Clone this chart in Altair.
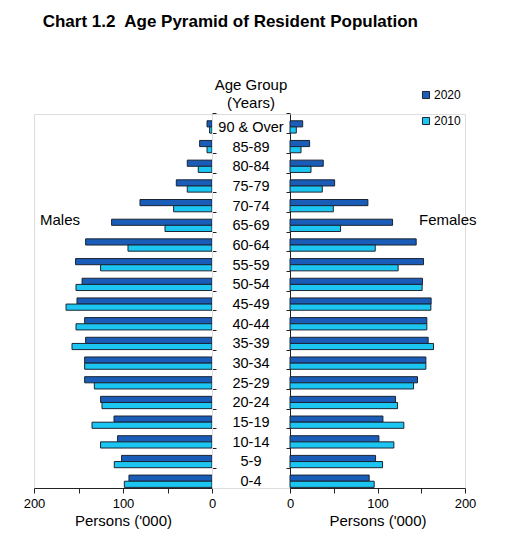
import altair as alt
import pandas as pd

FONT = "Liberation Sans"

# ---- data (thousands of persons) ----
ages = ["0-4", "5-9", "10-14", "15-19", "20-24", "25-29", "30-34", "35-39",
        "40-44", "45-49", "50-54", "55-59", "60-64", "65-69", "70-74",
        "75-79", "80-84", "85-89", "90 & Over"]
years = ["2020", "2010"]
males_2020 = [93.3, 101.6, 106.1, 110.1, 125.2, 143.1, 143.1, 142.0, 143.1, 151.7,
              146.0, 153.3, 142.0, 112.8, 80.9, 40.1, 27.8, 13.9, 5.6]
males_2010 = [98.5, 109.8, 125.2, 134.8, 123.6, 132.2, 143.1, 157.3, 152.8, 164.0,
              152.8, 125.2, 94.4, 52.8, 43.1, 27.8, 15.4, 5.6, 2.7]
females_2020 = [90.5, 97.8, 101.6, 106.2, 120.6, 145.7, 155.3, 157.9, 156.4, 161.3,
                151.4, 152.6, 144.2, 117.2, 89.0, 51.0, 38.0, 22.4, 14.5]
females_2010 = [96.2, 105.8, 118.7, 130.1, 122.9, 141.2, 155.3, 164.0, 156.4, 161.0,
                151.0, 123.6, 97.4, 57.8, 49.5, 36.9, 24.0, 12.6, 7.2]
side_labels = ["Males", "Females"]
header_lines = ["Age Group", "(Years)"]
chart_title = "Chart 1.2\u00a0 Age Pyramid of Resident Population"
axis_title = "Persons ('000)"

rows = []
for sex, s20, s10 in [("Males", males_2020, males_2010), ("Females", females_2020, females_2010)]:
    for i, a in enumerate(ages):
        rows.append({"age": a, "sex": sex, "year": "2020", "value": s20[i]})
        rows.append({"age": a, "sex": sex, "year": "2010", "value": s10[i]})
df = pd.DataFrame(rows)

age_order = ages[::-1]
W_L, W_M, W_R, H = 178, 78, 175, 374
STROKE = "#1b2433"
AXC = "#222222"

y_scale = alt.Scale(domain=age_order, paddingInner=0, paddingOuter=0)
yoff_scale = alt.Scale(domain=["_", "2020", "2010"], paddingInner=0, paddingOuter=0.1)
color_scale = alt.Scale(domain=years, range=["#1A5DB8", "#1CC6F2"])


def x_axis():
    return alt.Axis(values=[0, 50, 100, 150, 200],
                    labelExpr="datum.value % 100 == 0 ? datum.label : ''",
                    title=axis_title, grid=False, tickSize=5, labelFlush=False,
                    labelFontSize=13, titleFontSize=15, titleFontWeight="normal",
                    labelPadding=4, titlePadding=3, domainColor=AXC, tickColor=AXC,
                    labelColor="#000", titleColor="#000", labelFont=FONT, titleFont=FONT)


def y_axis(orient):
    return alt.Axis(orient=orient, labels=False, title=None, bandPosition=0,
                    tickSize=4, domainColor=AXC, tickColor=AXC, grid=False)


def bars(sex, reverse, orient, legend):
    return alt.Chart(df).transform_filter(alt.datum.sex == sex).mark_bar(
        stroke=STROKE, strokeWidth=1
    ).encode(
        x=alt.X("value:Q", scale=alt.Scale(domain=[0, 200], reverse=reverse), axis=x_axis()),
        y=alt.Y("age:N", scale=y_scale, axis=y_axis(orient)),
        yOffset=alt.YOffset("year:N", scale=yoff_scale),
        color=alt.Color("year:N", scale=color_scale, legend=legend),
    )


def side_text(label, xpos):
    return alt.Chart(pd.DataFrame({"t": [label]})).mark_text(
        align="left", baseline="middle", fontSize=15, font=FONT, color="#000"
    ).encode(text="t:N", x=alt.value(xpos), y=alt.value(106))


left = alt.layer(bars("Males", True, "right", None), side_text(side_labels[0], 6)).properties(width=W_L, height=H)

legend = alt.Legend(orient="none", legendX=130, legendY=-25, title=None,
                    symbolType="square", symbolSize=50, symbolStrokeColor=STROKE,
                    symbolStrokeWidth=1, labelFontSize=12, labelFont=FONT,
                    rowPadding=14, labelOffset=2)
right = alt.layer(bars("Females", False, "left", legend), side_text(side_labels[1], 129)).properties(width=W_R, height=H)

mid_labels = alt.Chart(pd.DataFrame({"age": ages})).mark_text(
    fontSize=14.5, font=FONT, color="#000", baseline="middle", dy=4
).encode(y=alt.Y("age:N", scale=y_scale, axis=None), text="age:N", x=alt.value(W_M / 2))
head1 = alt.Chart(pd.DataFrame({"t": [header_lines[0]]})).mark_text(
    fontSize=15, font=FONT, color="#000", baseline="middle"
).encode(text="t:N", x=alt.value(W_M / 2), y=alt.value(-29))
head2 = alt.Chart(pd.DataFrame({"t": [header_lines[1]]})).mark_text(
    fontSize=15, font=FONT, color="#000", baseline="middle"
).encode(text="t:N", x=alt.value(W_M / 2), y=alt.value(-11))
middle = alt.layer(mid_labels, head1, head2).properties(width=W_M, height=H)

chart = alt.hconcat(left, middle, right, spacing=0).properties(
    bounds="flush",
    title=alt.TitleParams(chart_title, anchor="start", fontSize=17, fontWeight="bold",
                          font=FONT, color="#000", dx=20, offset=47),
    padding={"left": 14, "top": 4, "right": 5, "bottom": 5},
).resolve_scale(color="independent", y="independent", x="independent").resolve_legend(
    color="independent"
).configure_view(stroke=None).configure(font=FONT)

chart.save("out.html", embed_options={"renderer": "svg", "actions": False})
